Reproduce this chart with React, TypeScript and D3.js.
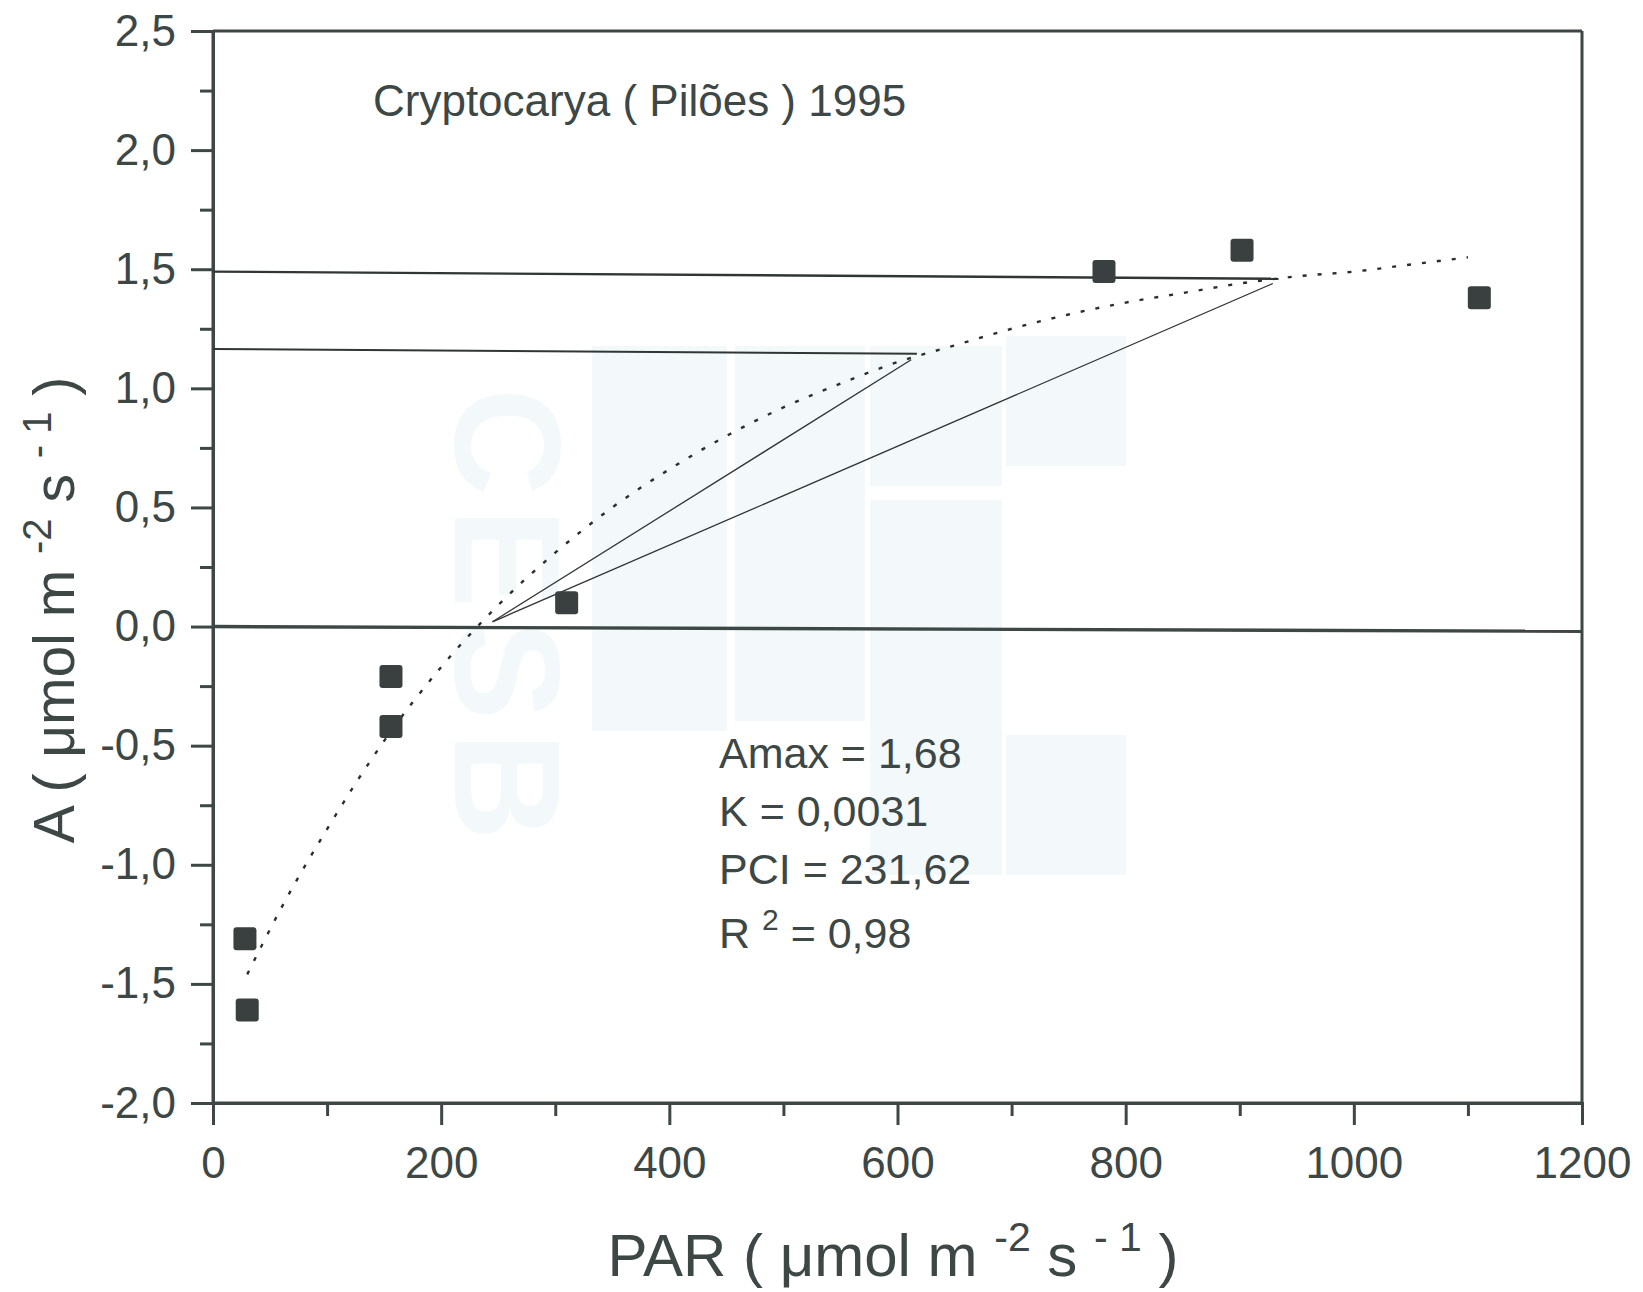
import React, { useEffect, useRef } from "react";
import * as d3 from "d3";

const W = 1643;
const H = 1292;

// Axis ticks
const parTicks = [0, 200, 400, 600, 800, 1000, 1200];
const parMinorTicks = [100, 300, 500, 700, 900, 1100];
const aTicks = [-2, -1.5, -1, -0.5, 0, 0.5, 1, 1.5, 2, 2.5];
const aMinorTicks = [-1.75, -1.25, -0.75, -0.25, 0.25, 0.75, 1.25, 1.75, 2.25];

// Observed points
const obsPAR = [28, 30, 156, 156, 310, 781, 902, 1110];
const obsA = [-1.31, -1.61, -0.21, -0.42, 0.1, 1.49, 1.58, 1.38];

// Fitted (dotted) curve
const fitPAR = [30, 60, 100, 150, 200, 250, 300, 350, 400, 450, 500, 550, 600, 650, 700, 750, 800, 850, 900, 950, 1000, 1050, 1100];
const fitA = [-1.46, -1.18, -0.85, -0.48, -0.17, 0.09, 0.31, 0.5, 0.66, 0.8, 0.92, 1.02, 1.11, 1.18, 1.25, 1.31, 1.36, 1.4, 1.44, 1.47, 1.49, 1.52, 1.55];

// Reference lines (PAR, A pairs)
const zeroLinePAR = [0, 1200];
const zeroLineA = [0, -0.02];
const hLine1PAR = [0, 617];
const hLine1A = [1.165, 1.145];
const hLine2PAR = [0, 934];
const hLine2A = [1.49, 1.46];
const slopeSteepPAR = [245, 612];
const slopeSteepA = [0.02, 1.12];
const slopeShallowPAR = [245, 929];
const slopeShallowA = [0.02, 1.44];

const annotations = ["Amax = 1,68", "K = 0,0031", "PCI = 231,62"];
const r2Value = "= 0,98";
const title = "Cryptocarya ( Pilões ) 1995";

const INK = "#3d4745";
const FONT = "'Liberation Sans', Arial, sans-serif";

export default function App() {
  const ref = useRef<SVGSVGElement | null>(null);

  useEffect(() => {
    const svg = d3.select(ref.current);
    svg.selectAll("*").remove();

    const x = d3.scaleLinear().domain([0, 1200]).range([213, 1582]);
    const y = d3.scaleLinear().domain([-2, 2.5]).range([1103, 31]);

    // faint watermark
    const wm = svg.append("g").attr("fill", "#f3f9fb");
    const blocks = [
      [592, 346, 135, 385],
      [735, 346, 130, 375],
      [870, 500, 132, 375],
      [870, 346, 132, 140],
      [1006, 336, 120, 130],
      [1006, 735, 120, 140],
    ];
    blocks.forEach(([bx, by, bw, bh]) =>
      wm.append("rect").attr("x", bx).attr("y", by).attr("width", bw).attr("height", bh)
    );
    wm.append("text")
      .attr("transform", "translate(455,620) rotate(90)")
      .attr("text-anchor", "middle")
      .attr("font-family", FONT)
      .attr("font-weight", "bold")
      .attr("font-size", 150)
      .attr("letter-spacing", 12)
      .text("CESB");

    // axes
    const fmt = (d: number) => d.toFixed(1).replace(".", ",");
    const gx = svg.append("g").attr("transform", `translate(0,${y(-2)})`);
    gx.call(
      d3.axisBottom(x).tickValues(parTicks).tickSize(22).tickPadding(22).tickFormat((d) => String(d))
    );
    const gxm = svg.append("g").attr("transform", `translate(0,${y(-2)})`);
    gxm.call(d3.axisBottom(x).tickValues(parMinorTicks).tickSize(13).tickFormat(() => ""));
    const gy = svg.append("g").attr("transform", `translate(${x(0)},0)`);
    gy.call(d3.axisLeft(y).tickValues(aTicks).tickSize(22).tickPadding(15).tickFormat((d) => fmt(+d)));
    const gym = svg.append("g").attr("transform", `translate(${x(0)},0)`);
    gym.call(d3.axisLeft(y).tickValues(aMinorTicks).tickSize(13).tickFormat(() => ""));

    [gx, gxm, gy, gym].forEach((g) => {
      g.select(".domain").attr("stroke", INK).attr("stroke-width", 3);
      g.selectAll(".tick line").attr("stroke", INK).attr("stroke-width", 3);
      g.selectAll(".tick text")
        .attr("fill", INK)
        .attr("font-family", FONT)
        .attr("font-size", 44);
    });
    gx.select(".domain").attr("d", `M${x(0)},0H${x(1200)}`);
    gy.select(".domain").attr("d", `M0,${y(2.5)}V${y(-2)}`);

    // top and right frame
    svg.append("line")
      .attr("x1", x(0)).attr("x2", x(1200)).attr("y1", y(2.5)).attr("y2", y(2.5))
      .attr("stroke", INK).attr("stroke-width", 3);
    svg.append("line")
      .attr("x1", x(1200)).attr("x2", x(1200)).attr("y1", y(2.5)).attr("y2", y(-2))
      .attr("stroke", INK).attr("stroke-width", 3);

    const seg = (px: number[], ay: number[]) =>
      d3.line<number>().x((_, i) => x(px[i])).y((_, i) => y(ay[i]))(px);

    // reference lines
    svg.append("path").attr("d", seg(zeroLinePAR, zeroLineA)).attr("stroke", INK).attr("stroke-width", 3.4).attr("fill", "none");
    svg.append("path").attr("d", seg(hLine1PAR, hLine1A)).attr("stroke", "#2f3634").attr("stroke-width", 2).attr("fill", "none");
    svg.append("path").attr("d", seg(hLine2PAR, hLine2A)).attr("stroke", "#2f3634").attr("stroke-width", 2.4).attr("fill", "none");
    svg.append("path").attr("d", seg(slopeSteepPAR, slopeSteepA)).attr("stroke", "#2f3634").attr("stroke-width", 1.3).attr("fill", "none");
    svg.append("path").attr("d", seg(slopeShallowPAR, slopeShallowA)).attr("stroke", "#2f3634").attr("stroke-width", 1.3).attr("fill", "none");

    // fitted dotted curve
    const fitLine = d3
      .line<number>()
      .x((_, i) => x(fitPAR[i]))
      .y((_, i) => y(fitA[i]))
      .curve(d3.curveMonotoneX);
    svg.append("path")
      .attr("d", fitLine(fitPAR))
      .attr("fill", "none")
      .attr("stroke", "#2a2f2e")
      .attr("stroke-width", 2.4)
      .attr("stroke-dasharray", "4 11");

    // observed points
    const s = 23;
    svg.append("g")
      .selectAll("rect")
      .data(obsPAR)
      .join("rect")
      .attr("x", (d) => x(d) - s / 2)
      .attr("y", (_, i) => y(obsA[i]) - s / 2)
      .attr("width", s)
      .attr("height", s)
      .attr("rx", 3)
      .attr("fill", "#3a403f");

    // title
    svg.append("text")
      .attr("x", 373).attr("y", 116)
      .attr("font-family", FONT).attr("font-size", 44).attr("fill", INK)
      .text(title);

    // annotations
    const ann = svg.append("g").attr("font-family", FONT).attr("font-size", 43).attr("fill", INK);
    const baselines = [768, 826, 884];
    annotations.forEach((t, i) => ann.append("text").attr("x", 719).attr("y", baselines[i]).text(t));
    const r2 = ann.append("text").attr("x", 719).attr("y", 948);
    r2.append("tspan").text("R ");
    r2.append("tspan").attr("font-size", 30).attr("dy", -18).text("2");
    r2.append("tspan").attr("dy", 18).text(" " + r2Value);

    // x title
    const xt = svg.append("text")
      .attr("x", 893).attr("y", 1276)
      .attr("text-anchor", "middle")
      .attr("font-family", FONT).attr("font-size", 60).attr("fill", INK);
    xt.append("tspan").text("PAR ( μmol m ");
    xt.append("tspan").attr("font-size", 41).attr("dy", -25).text("-2");
    xt.append("tspan").attr("dy", 25).text(" s ");
    xt.append("tspan").attr("font-size", 41).attr("dy", -25).text("- 1");
    xt.append("tspan").attr("dy", 25).text(" )");

    // y title
    const yt = svg.append("text")
      .attr("transform", "translate(74,610) rotate(-90)")
      .attr("text-anchor", "middle")
      .attr("font-family", FONT).attr("font-size", 57).attr("fill", INK);
    yt.append("tspan").text("A ( μmol m ");
    yt.append("tspan").attr("font-size", 40).attr("dy", -23).text("-2");
    yt.append("tspan").attr("dy", 23).text(" s ");
    yt.append("tspan").attr("font-size", 40).attr("dy", -23).text("- 1");
    yt.append("tspan").attr("dy", 23).text(" )");
  }, []);

  return (
    <svg
      ref={ref}
      width={W}
      height={H}
      viewBox={`0 0 ${W} ${H}`}
      style={{ position: "absolute", left: 0, top: 0, background: "#ffffff" }}
    />
  );
}
